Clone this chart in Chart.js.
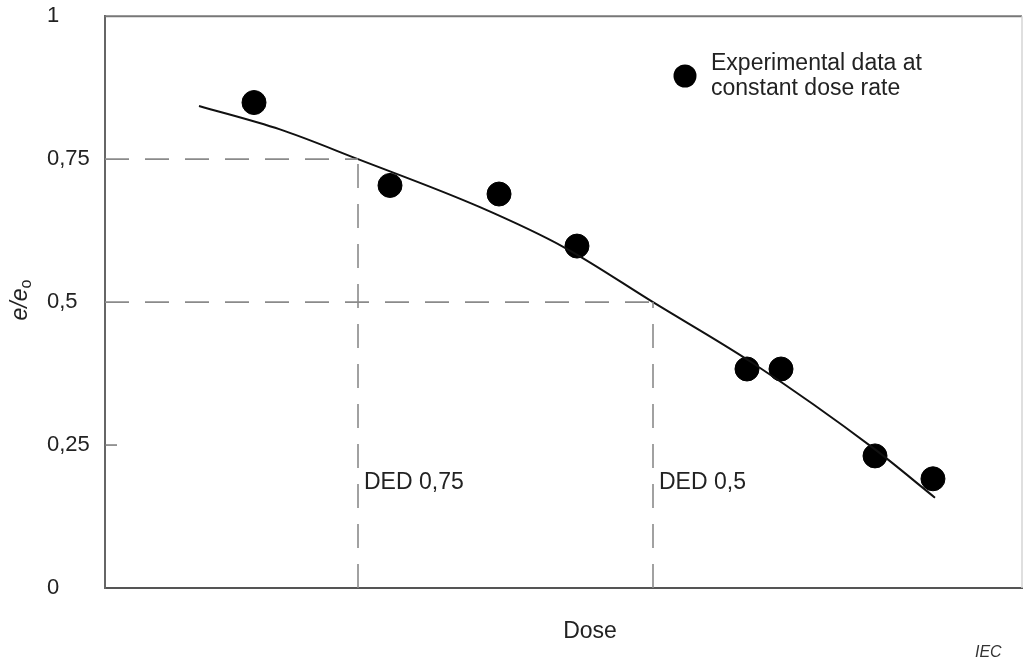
<!DOCTYPE html>
<html>
<head>
<meta charset="utf-8">
<script src="https://cdn.jsdelivr.net/npm/chart.js@4"></script>
<style>
  html, body { margin: 0; padding: 0; background: #fff; }
  #wrap { width: 1024px; height: 659px; position: relative; }
</style>
</head>
<body>
<div id="wrap"><canvas id="doseChart"></canvas></div>
<script>
// measured points (dose in arbitrary units 0..100, e/eo)
const expDose = [16.25, 31.08, 42.97, 51.47, 70.01, 73.72, 83.97, 90.29];
const expRatio = [0.849, 0.704, 0.689, 0.598, 0.383, 0.383, 0.231, 0.191];

// fitted curve
const fitDose = [10.25, 19.08, 27.59, 40.89, 50.16, 59.76, 70.67, 83.75, 90.51];
const fitRatio = [0.843, 0.802, 0.75, 0.666, 0.595, 0.5, 0.393, 0.245, 0.158];

// DED read-offs
const dedLevels = [0.75, 0.5];
const dedDoses = [27.59, 59.76];
const dedLabels = ["DED 0,75", "DED 0,5"];
const dedLabelRatio = 0.185;

const yTicks = [0, 0.25, 0.5, 0.75, 1];
const yTickLabels = ["0", "0,25", "0,5", "0,75", "1"];
const legendLines = ["Experimental data at", "constant dose rate"];

const FONT = "'Liberation Sans', Arial, sans-serif";
const TEXT = "#222";
const FS = 23;

const toXY = (xs, ys) => xs.map((x, i) => ({ x: x, y: ys[i] }));

const dashed = (pts) => ({
  type: "line",
  data: pts,
  borderColor: "#8a8a8a",
  borderWidth: 1.6,
  borderDash: [24, 16],
  pointRadius: 0,
  fill: false
});

// horizontal part starts at the y axis, vertical part starts at the x axis
const dedSets = [];
dedLevels.forEach((lvl, i) => {
  dedSets.push(dashed([{ x: 0, y: lvl }, { x: dedDoses[i], y: lvl }]));
  dedSets.push(dashed([{ x: dedDoses[i], y: 0 }, { x: dedDoses[i], y: lvl }]));
});

// extra drawing: frame, tick stub, labels, legend
const decor = {
  id: "decor",
  afterDraw(chart) {
    const { ctx, chartArea: a, scales } = chart;
    const xs = scales.x, ys = scales.y;
    ctx.save();

    // top and right frame
    ctx.strokeStyle = "#777";
    ctx.lineWidth = 2;
    ctx.beginPath();
    ctx.moveTo(a.left, a.top);
    ctx.lineTo(a.right, a.top);
    ctx.stroke();
    ctx.strokeStyle = "#d4d4d4";
    ctx.lineWidth = 1.5;
    ctx.beginPath();
    ctx.moveTo(a.right, a.top);
    ctx.lineTo(a.right, a.bottom);
    ctx.stroke();

    // short inward tick at 0,25
    ctx.strokeStyle = "#777";
    ctx.lineWidth = 1.5;
    const ty = ys.getPixelForValue(0.25);
    ctx.beginPath();
    ctx.moveTo(a.left, ty);
    ctx.lineTo(a.left + 12, ty);
    ctx.stroke();

    ctx.fillStyle = TEXT;
    ctx.font = FS + "px " + FONT;
    ctx.textBaseline = "middle";

    // DED labels
    ctx.textAlign = "left";
    dedDoses.forEach((d, i) => {
      ctx.fillText(dedLabels[i], xs.getPixelForValue(d) + 6, ys.getPixelForValue(dedLabelRatio));
    });

    // x title
    ctx.textAlign = "center";
    ctx.fillText("Dose", 590, 632);

    // y title e/eo
    ctx.save();
    ctx.translate(21, 300);
    ctx.rotate(-Math.PI / 2);
    ctx.textAlign = "left";
    ctx.font = "italic " + FS + "px " + FONT;
    const main = "e/e";
    const w = ctx.measureText(main).width;
    ctx.font = "16px " + FONT;
    const ws = ctx.measureText("o").width;
    const x0 = -(w + ws) / 2;
    ctx.font = "italic " + FS + "px " + FONT;
    ctx.fillText(main, x0, 0);
    ctx.font = "16px " + FONT;
    ctx.fillText("o", x0 + w, 6);
    ctx.restore();

    // legend
    ctx.beginPath();
    ctx.arc(685, 76, 11.5, 0, Math.PI * 2);
    ctx.fillStyle = "#000";
    ctx.fill();
    ctx.fillStyle = TEXT;
    ctx.textAlign = "left";
    ctx.font = FS + "px " + FONT;
    ctx.fillText(legendLines[0], 711, 64);
    ctx.fillText(legendLines[1], 711, 89);

    // source tag
    ctx.font = "italic 16px " + FONT;
    ctx.fillStyle = "#333";
    ctx.textBaseline = "alphabetic";
    ctx.fillText("IEC", 975, 657);

    ctx.restore();
  }
};

new Chart(document.getElementById("doseChart"), {
  type: "scatter",
  data: {
    datasets: [
      ...dedSets,
      {
        type: "line",
        data: toXY(fitDose, fitRatio),
        borderColor: "#111",
        borderWidth: 2,
        pointRadius: 0,
        cubicInterpolationMode: "monotone",
        fill: false
      },
      {
        data: toXY(expDose, expRatio),
        backgroundColor: "#000",
        borderColor: "#000",
        pointRadius: 12,
        pointHoverRadius: 12
      }
    ]
  },
  options: {
    responsive: true,
    maintainAspectRatio: false,
    animation: false,
    events: [],
    layout: { autoPadding: false, padding: { left: 47, right: 2, top: 13, bottom: 0 } },
    plugins: {
      legend: { display: false },
      tooltip: { enabled: false }
    },
    scales: {
      x: {
        type: "linear",
        min: 0,
        max: 100,
        ticks: { display: false },
        grid: { display: false, drawTicks: false },
        border: { color: "#555", width: 2 },
        afterFit: (s) => { s.height = 71; }
      },
      y: {
        min: 0,
        max: 1,
        afterBuildTicks: (s) => { s.ticks = yTicks.map((v) => ({ value: v })); },
        ticks: {
          crossAlign: "far",
          color: TEXT,
          font: { family: FONT, size: FS - 1 },
          callback: (v) => yTickLabels[yTicks.indexOf(v)]
        },
        grid: { display: false, drawTicks: false },
        border: { color: "#666", width: 2 },
        afterFit: (s) => { s.width = 58; }
      }
    }
  },
  plugins: [decor]
});
</script>
</body>
</html>
